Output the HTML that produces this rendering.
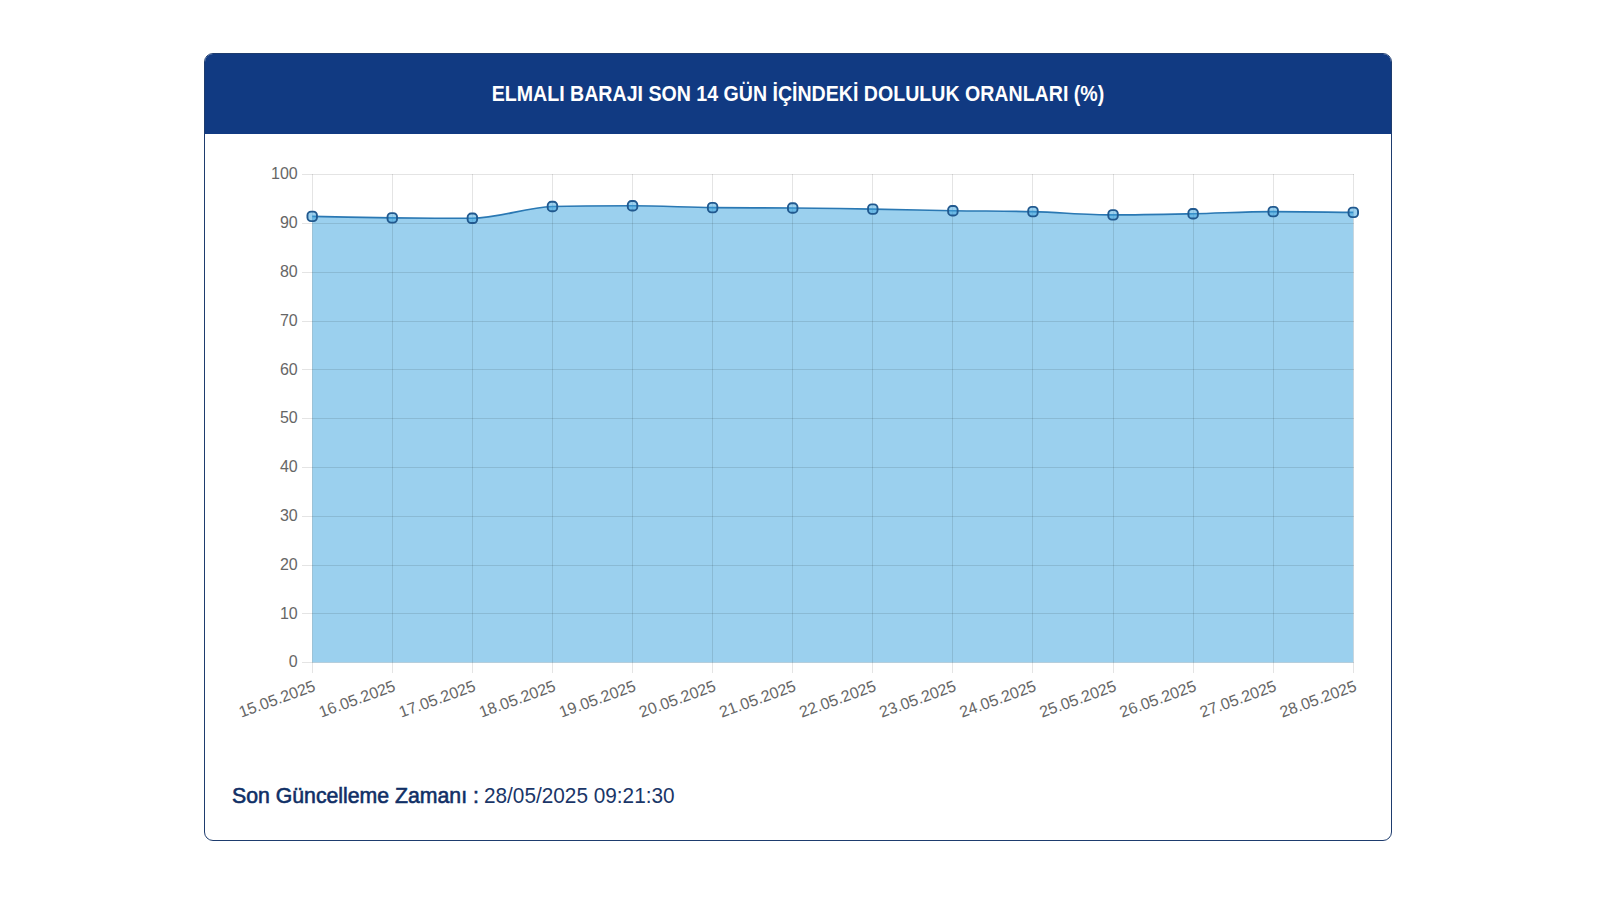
<!DOCTYPE html>
<html><head><meta charset="utf-8">
<style>
html,body{margin:0;padding:0;background:#fff;width:1600px;height:900px;overflow:hidden;}
body{font-family:"Liberation Sans",sans-serif;position:relative;}
.card{position:absolute;left:204px;top:53px;width:1186px;height:786px;border:1.5px solid #1e3c6e;border-radius:9px;box-sizing:content-box;overflow:hidden;background:#fff;}
.hdr{position:absolute;left:0;top:0;right:0;height:80px;background:#113a82;}
.hdr span{position:absolute;left:50%;top:0;color:#fff;font-weight:bold;font-size:22px;line-height:80px;white-space:nowrap;transform:translateX(-50%) scaleX(0.89);}
.foot{position:absolute;top:784.4px;font-size:22px;line-height:24px;color:#102f66;white-space:nowrap;transform-origin:0 0;}
.f1{left:231.5px;-webkit-text-stroke:0.6px #102f66;transform:scaleX(0.966);}
.f2{left:484px;transform:scaleX(0.944);color:#1a3668;}

svg{position:absolute;left:0;top:0;}
</style></head><body>
<div class="card">
<div class="hdr"><span>ELMALI BARAJI SON 14 GÜN İÇİNDEKİ DOLULUK ORANLARI (%)</span></div>
</div>
<svg width="1600" height="900" viewBox="0 0 1600 900">
<path d="M312.20,216.40 C338.89,216.90 365.59,217.58 392.28,217.90 C418.98,218.22 445.67,218.30 472.37,218.30 C499.06,218.30 525.76,207.25 552.45,206.50 C579.15,205.75 605.84,205.75 632.54,205.75 C659.23,205.75 685.93,207.27 712.62,207.60 C739.32,207.93 766.01,207.78 792.71,208.00 C819.40,208.22 846.10,208.64 872.79,209.10 C899.49,209.56 926.18,210.32 952.88,210.75 C979.57,211.18 1006.27,210.96 1032.96,211.65 C1059.66,212.34 1086.35,214.90 1113.05,214.90 C1139.74,214.90 1166.44,214.30 1193.13,213.75 C1219.83,213.20 1246.52,211.60 1273.22,211.60 C1299.91,211.60 1326.61,212.13 1353.30,212.40 L1353.30,662.60 L312.20,662.60 Z" fill="rgba(64,164,222,0.52)" stroke="none"/>
<g stroke="rgba(0,0,0,0.105)" stroke-width="1" fill="none" shape-rendering="crispEdges"><line x1="301.50" y1="174.50" x2="1354.00" y2="174.50"/><line x1="301.50" y1="223.50" x2="1354.00" y2="223.50"/><line x1="301.50" y1="272.50" x2="1354.00" y2="272.50"/><line x1="301.50" y1="321.50" x2="1354.00" y2="321.50"/><line x1="301.50" y1="369.50" x2="1354.00" y2="369.50"/><line x1="301.50" y1="418.50" x2="1354.00" y2="418.50"/><line x1="301.50" y1="467.50" x2="1354.00" y2="467.50"/><line x1="301.50" y1="516.50" x2="1354.00" y2="516.50"/><line x1="301.50" y1="565.50" x2="1354.00" y2="565.50"/><line x1="301.50" y1="613.50" x2="1354.00" y2="613.50"/><line x1="301.50" y1="662.50" x2="1354.00" y2="662.50"/><line x1="312.50" y1="174.00" x2="312.50" y2="672.50"/><line x1="392.50" y1="174.00" x2="392.50" y2="672.50"/><line x1="472.50" y1="174.00" x2="472.50" y2="672.50"/><line x1="552.50" y1="174.00" x2="552.50" y2="672.50"/><line x1="632.50" y1="174.00" x2="632.50" y2="672.50"/><line x1="712.50" y1="174.00" x2="712.50" y2="672.50"/><line x1="792.50" y1="174.00" x2="792.50" y2="672.50"/><line x1="872.50" y1="174.00" x2="872.50" y2="672.50"/><line x1="952.50" y1="174.00" x2="952.50" y2="672.50"/><line x1="1032.50" y1="174.00" x2="1032.50" y2="672.50"/><line x1="1113.50" y1="174.00" x2="1113.50" y2="672.50"/><line x1="1193.50" y1="174.00" x2="1193.50" y2="672.50"/><line x1="1273.50" y1="174.00" x2="1273.50" y2="672.50"/><line x1="1353.50" y1="174.00" x2="1353.50" y2="672.50"/></g>
<path d="M312.20,216.40 C338.89,216.90 365.59,217.58 392.28,217.90 C418.98,218.22 445.67,218.30 472.37,218.30 C499.06,218.30 525.76,207.25 552.45,206.50 C579.15,205.75 605.84,205.75 632.54,205.75 C659.23,205.75 685.93,207.27 712.62,207.60 C739.32,207.93 766.01,207.78 792.71,208.00 C819.40,208.22 846.10,208.64 872.79,209.10 C899.49,209.56 926.18,210.32 952.88,210.75 C979.57,211.18 1006.27,210.96 1032.96,211.65 C1059.66,212.34 1086.35,214.90 1113.05,214.90 C1139.74,214.90 1166.44,214.30 1193.13,213.75 C1219.83,213.20 1246.52,211.60 1273.22,211.60 C1299.91,211.60 1326.61,212.13 1353.30,212.40" fill="none" stroke="#2a78b3" stroke-width="1.6"/>
<g fill="rgba(64,164,222,0.52)" stroke="#21598f" stroke-width="1.9"><rect x="307.45" y="211.65" width="9.5" height="9.5" rx="3.6"/><rect x="387.53" y="213.15" width="9.5" height="9.5" rx="3.6"/><rect x="467.62" y="213.55" width="9.5" height="9.5" rx="3.6"/><rect x="547.70" y="201.75" width="9.5" height="9.5" rx="3.6"/><rect x="627.79" y="201.00" width="9.5" height="9.5" rx="3.6"/><rect x="707.87" y="202.85" width="9.5" height="9.5" rx="3.6"/><rect x="787.96" y="203.25" width="9.5" height="9.5" rx="3.6"/><rect x="868.04" y="204.35" width="9.5" height="9.5" rx="3.6"/><rect x="948.13" y="206.00" width="9.5" height="9.5" rx="3.6"/><rect x="1028.21" y="206.90" width="9.5" height="9.5" rx="3.6"/><rect x="1108.30" y="210.15" width="9.5" height="9.5" rx="3.6"/><rect x="1188.38" y="209.00" width="9.5" height="9.5" rx="3.6"/><rect x="1268.47" y="206.85" width="9.5" height="9.5" rx="3.6"/><rect x="1348.55" y="207.65" width="9.5" height="9.5" rx="3.6"/></g>
<g font-family="Liberation Sans" font-size="16" fill="#666" text-anchor="end"><text x="297.70" y="179.30">100</text><text x="297.70" y="228.10">90</text><text x="297.70" y="276.90">80</text><text x="297.70" y="325.70">70</text><text x="297.70" y="374.50">60</text><text x="297.70" y="423.30">50</text><text x="297.70" y="472.10">40</text><text x="297.70" y="520.90">30</text><text x="297.70" y="569.70">20</text><text x="297.70" y="618.50">10</text><text x="297.70" y="667.30">0</text></g>
<g font-family="Liberation Sans" font-size="16" fill="#666" text-anchor="end"><text transform="translate(316.40,690.40) rotate(-20)" x="0" y="0">15.05.2025</text><text transform="translate(396.48,690.40) rotate(-20)" x="0" y="0">16.05.2025</text><text transform="translate(476.57,690.40) rotate(-20)" x="0" y="0">17.05.2025</text><text transform="translate(556.65,690.40) rotate(-20)" x="0" y="0">18.05.2025</text><text transform="translate(636.74,690.40) rotate(-20)" x="0" y="0">19.05.2025</text><text transform="translate(716.82,690.40) rotate(-20)" x="0" y="0">20.05.2025</text><text transform="translate(796.91,690.40) rotate(-20)" x="0" y="0">21.05.2025</text><text transform="translate(876.99,690.40) rotate(-20)" x="0" y="0">22.05.2025</text><text transform="translate(957.08,690.40) rotate(-20)" x="0" y="0">23.05.2025</text><text transform="translate(1037.16,690.40) rotate(-20)" x="0" y="0">24.05.2025</text><text transform="translate(1117.25,690.40) rotate(-20)" x="0" y="0">25.05.2025</text><text transform="translate(1197.33,690.40) rotate(-20)" x="0" y="0">26.05.2025</text><text transform="translate(1277.42,690.40) rotate(-20)" x="0" y="0">27.05.2025</text><text transform="translate(1357.50,690.40) rotate(-20)" x="0" y="0">28.05.2025</text></g>
</svg>
<div class="foot f1">Son Güncelleme Zamanı :</div><div class="foot f2">28/05/2025 09:21:30</div>
</body></html>
